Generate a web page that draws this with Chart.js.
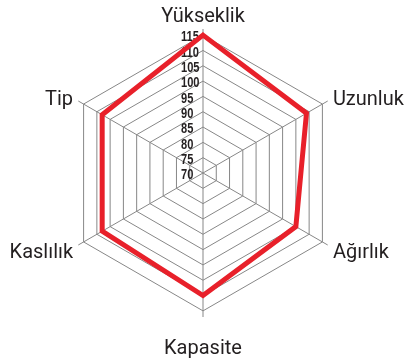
<!DOCTYPE html>
<html>
<head>
<meta charset="utf-8">
<script src="https://cdn.jsdelivr.net/npm/chart.js@4"></script>
<style>
  html, body { margin: 0; padding: 0; background: #fff; }
  #wrap { width: 406px; height: 361px; position: relative; }
</style>
</head>
<body>
<div id="wrap"><canvas id="radarChart"></canvas></div>
<script>
/* ========================================
   DATA
======================================== */

const traits = ["Yükseklik", "Uzunluk", "Ağırlık", "Kapasite", "Kaslılık", "Tip"];
const scores = [115, 109, 105, 110, 108, 108];
const tickValues = [70, 75, 80, 85, 90, 95, 100, 105, 110, 115];

/* ========================================
   STYLE
======================================== */

const GRID = "#878787";
const RED = "#e8202a";
const INK = "#231f20";

// how far past the spoke end each trait name sits, plus a small vertical nudge
const labelGap = [12, 6, 6, 32, 6, 6];
const labelDy = [0, 2, 5, 0, 5, 2];

// tick numbers + trait names are drawn by hand so they can be left-aligned
const radarText = {
  id: "radarText",
  beforeDatasetsDraw(chart) {
    const r = chart.scales.r;
    const ctx = chart.ctx;
    const squeeze = 0.74; // narrow bold digits
    ctx.save();
    ctx.fillStyle = INK;
    ctx.font = "bold 15px 'Liberation Sans', Arial, sans-serif";
    ctx.textAlign = "left";
    ctx.textBaseline = "middle";
    ctx.scale(squeeze, 1);
    tickValues.forEach(v => {
      const y = r.yCenter - r.getDistanceFromCenterForValue(v);
      ctx.fillText(String(v), (r.xCenter - 22) / squeeze, y + 2);
    });
    ctx.restore();
  },
  afterDraw(chart) {
    const r = chart.scales.r;
    const ctx = chart.ctx;
    ctx.save();
    ctx.fillStyle = INK;
    ctx.font = "20px Roboto, sans-serif";
    ctx.textBaseline = "middle";
    traits.forEach((name, i) => {
      const p = r.getPointPosition(i, r.drawingArea + labelGap[i]);
      const dx = p.x - r.xCenter;
      ctx.textAlign = Math.abs(dx) < 1 ? "center" : (dx > 0 ? "left" : "right");
      ctx.fillText(name, p.x, p.y + labelDy[i]);
    });
    ctx.restore();
  }
};

/* ========================================
   CHART
======================================== */

new Chart(document.getElementById("radarChart"), {
  type: "radar",
  data: {
    labels: traits,
    datasets: [{
      data: scores,
      borderColor: RED,
      borderWidth: 5,
      borderJoinStyle: "miter",
      backgroundColor: "transparent",
      fill: false,
      pointRadius: 0,
      pointHoverRadius: 0
    }]
  },
  options: {
    responsive: true,
    maintainAspectRatio: false,
    animation: false,
    layout: { padding: { left: 59, right: 59, top: 29, bottom: 44 } },
    plugins: {
      legend: { display: false },
      tooltip: { enabled: false }
    },
    scales: {
      r: {
        min: 70,
        max: 117,
        // keep the rings at the tick values; the spokes run a little past 115
        afterBuildTicks: s => { s.ticks = tickValues.map(v => ({ value: v })); },
        grid: { color: GRID, lineWidth: 1 },
        angleLines: { color: GRID, lineWidth: 1 },
        pointLabels: { display: false },
        ticks: { display: false, showLabelBackdrop: false }
      }
    }
  },
  plugins: [radarText]
});
</script>
</body>
</html>
